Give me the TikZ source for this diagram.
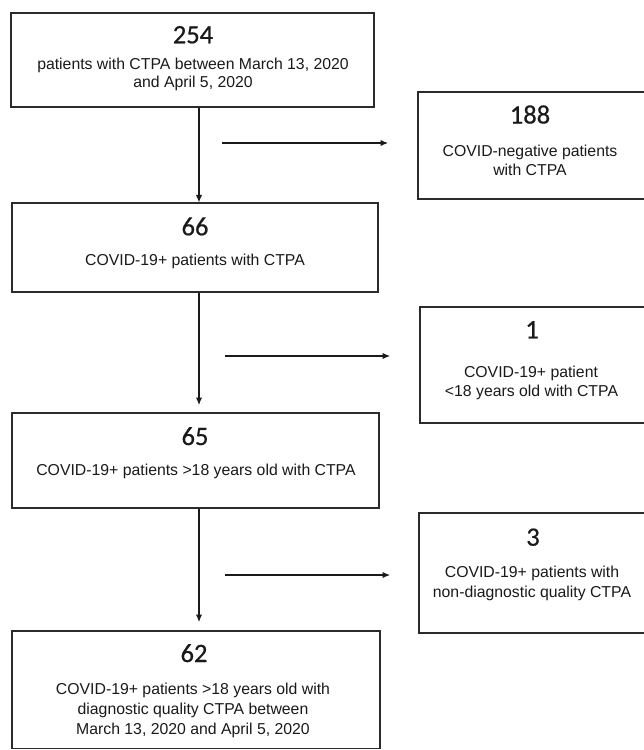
\documentclass[tikz,border=0pt]{standalone}
\usepackage{fontspec}
\setmainfont{Liberation Sans}
\newfontfamily\numfont[FakeBold=0.6]{Carlito}
\usetikzlibrary{arrows.meta}
\definecolor{ink}{HTML}{1A1A1A}
\definecolor{edge}{HTML}{2B2B2B}
\tikzset{
  box/.style={draw=edge, line width=1.2pt, inner sep=0pt, fill=white},
  num/.style={anchor=base, inner sep=0pt, text=ink, font=\numfont\fontsize{26.5}{30}\selectfont},
  txt/.style={anchor=base, inner sep=0pt, text=ink, font=\fontsize{15.8}{18}\selectfont},
  arr/.style={draw=ink, line width=1.1pt, -{Latex[length=7.5pt,width=6.5pt]}}
}
\begin{document}
\begin{tikzpicture}[x=1pt,y=-1pt]
\useasboundingbox (0,0) rectangle (644,750);
\fill[white] (0,0) rectangle (644,750);
\clip (0,0) rectangle (644,750);

% boxes
\node[box, minimum width=363pt, minimum height=94pt] (b254) at (192.5,60) {};
\node[box, minimum width=232pt, minimum height=107pt] (b188) at (534,145.5) {};
\node[box, minimum width=366pt, minimum height=89pt] (b66) at (195,247.5) {};
\node[box, minimum width=230pt, minimum height=116pt] (b1) at (535,365) {};
\node[box, minimum width=367pt, minimum height=95pt] (b65) at (195.5,460.5) {};
\node[box, minimum width=231pt, minimum height=120pt] (b3) at (534.5,573) {};
\node[box, minimum width=368pt, minimum height=117.5pt] (b62) at (196,689.75) {};

% texts
\node[num] (n254) at (193,43.3) {254};
\node[txt] (t254a) at (193,69.3) {patients with CTPA between March 13, 2020};
\node[txt] (t254b) at (193,87.3) {and April 5, 2020};

\node[num] (n188) at (530,123.5) {188};
\node[txt] (t188a) at (530,156.7) {COVID-negative patients};
\node[txt] (t188b) at (530,175) {with CTPA};

\node[num] (n66) at (195,235.3) {66};
\node[txt] (t66a) at (195,265.7) {COVID-19+ patients with CTPA};

\node[num] (n1) at (532,338.3) {1};
\node[txt] (t1a) at (531,377.3) {COVID-19+ patient};
\node[txt] (t1b) at (531.5,396) {<18 years old with CTPA};

\node[num] (n65) at (195,445) {65};
\node[txt] (t65a) at (196,475) {COVID-19+ patients >18 years old with CTPA};

\node[num] (n3) at (533,545.7) {3};
\node[txt] (t3a) at (532,577.3) {COVID-19+ patients with};
\node[txt] (t3b) at (532,597.3) {non-diagnostic quality CTPA};

\node[num] (n62) at (194,662) {62};
\node[txt] (t62a) at (193,694) {COVID-19+ patients >18 years old with};
\node[txt] (t62b) at (193,714) {diagnostic quality CTPA between};
\node[txt] (t62c) at (193,734) {March 13, 2020 and April 5, 2020};

% connector coordinates
\coordinate (v1) at (199,202);
\coordinate (v2) at (199,405);
\coordinate (v3) at (199,622);
\coordinate (h1s) at (222,143);
\coordinate (h1e) at (388,143);
\coordinate (h2s) at (225,356);
\coordinate (h2e) at (390,356);
\coordinate (h3s) at (225,575);
\coordinate (h3e) at (390,575);

% connectors
\draw[arr] (b254.south -| v1) -- (b66.north -| v1);
\draw[arr] (b66.south -| v2) -- (v2);
\draw[arr] (b65.south -| v3) -- (v3);
\draw[arr] (h1s) -- (h1e);
\draw[arr] (h2s) -- (h2e);
\draw[arr] (h3s) -- (h3e);
\end{tikzpicture}
\end{document}
